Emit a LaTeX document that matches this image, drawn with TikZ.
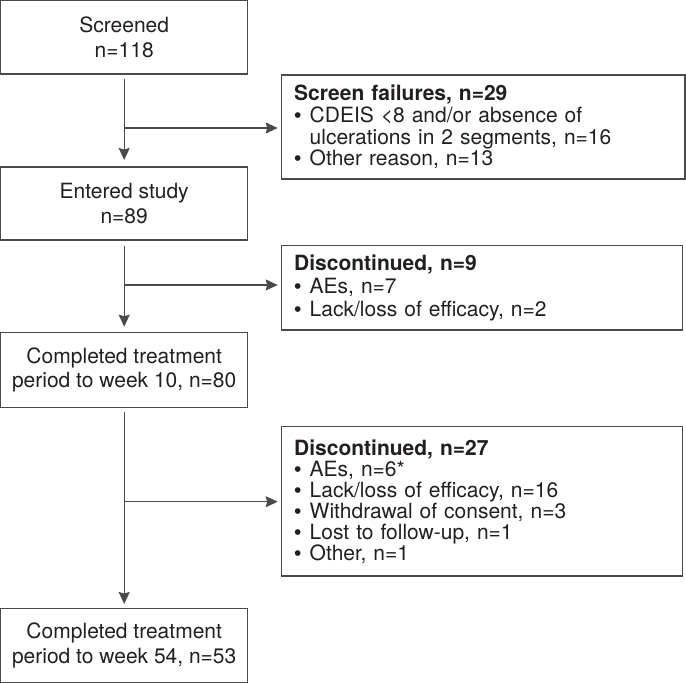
\documentclass[tikz,border=0pt]{standalone}
\usepackage{fontspec}
\setmainfont{TeX Gyre Heros}
\newfontfamily\bulfont{Liberation Sans}
\usetikzlibrary{arrows.meta}
\definecolor{linegray}{HTML}{4A4A4A}
\definecolor{txt}{HTML}{231F20}
\newcommand{\bul}{\makebox[15.5pt][l]{{\bulfont •}}}
\newcommand{\ind}{\hspace*{15.5pt}}
\begin{document}
\begin{tikzpicture}[x=1pt,y=-1pt,
  leftbox/.style={draw=linegray, line width=1.3pt, rectangle, anchor=north west,
    outer sep=0pt, inner sep=0pt, minimum width=247pt, align=center, text=txt,
    font=\fontsize{21}{24.5}\selectfont},
  rightbox/.style={draw=linegray, line width=1.3pt, rectangle, anchor=north west,
    outer sep=0pt, inner xsep=12.5pt, inner ysep=0pt, align=left, text=txt},
  flow/.style={draw=linegray, line width=1.3pt,
    -{Stealth[length=12pt,width=11pt,inset=1.5pt]}},
]
\useasboundingbox (0,0) rectangle (686,683);

% left column
\node[leftbox, minimum height=73.3pt] (B1) at (0.7,0.7) {Screened\\n=118};
\node[leftbox, minimum height=73pt] (B2) at (0.7,167) {Entered study\\n=89};
\node[leftbox, minimum height=74.6pt] (B3) at (0.7,332.7) {Completed treatment\\period to week 10, n=80};
\node[leftbox, minimum height=74pt] (B4) at (0.7,608.3) {Completed treatment\\period to week 54, n=53};

% right column
\node[rightbox, minimum height=104pt, text width=378.3pt,
  font=\fontsize{21}{21.7}\selectfont] (SF) at (281.7,75)
  {\textbf{Screen failures, n=29}\\
   \bul CDEIS <8 and/or absence of\\
   \ind ulcerations in 2 segments, n=16\\
   \bul Other reason, n=13};
\node[rightbox, minimum height=84.3pt, text width=375.6pt,
  font=\fontsize{21}{23}\selectfont] (D9) at (281.7,245.7)
  {\textbf{Discontinued, n=9}\\
   \bul AEs, n=7\\
   \bul Lack/loss of efficacy, n=2};
\node[rightbox, minimum height=149.3pt, text width=375.6pt,
  font=\fontsize{21}{21}\selectfont] (D27) at (281.7,426.7)
  {\textbf{Discontinued, n=27}\\
   \bul AEs, n=6*\\
   \bul Lack/loss of efficacy, n=16\\
   \bul Withdrawal of consent, n=3\\
   \bul Lost to follow-up, n=1\\
   \bul Other, n=1};

% junction heights
\coordinate (y1) at (0,128);
\coordinate (y2) at (0,285);
\coordinate (y3) at (0,501.7);
\coordinate (j1) at (B1.south |- y1);
\coordinate (j2) at (B2.south |- y2);
\coordinate (j3) at (B3.south |- y3);

% connectors
\draw[flow, shorten <=5pt, shorten >=7pt] (B1.south) -- (B2.north);
\draw[flow, shorten >=4pt] (j1) -- (j1 -| SF.west);
\draw[flow, shorten <=6pt, shorten >=6pt] (B2.south) -- (B3.north);
\draw[flow, shorten >=4pt] (j2) -- (j2 -| D9.west);
\draw[flow, shorten <=4.4pt, shorten >=4.3pt] (B3.south) -- (B4.north);
\draw[flow, shorten >=4pt] (j3) -- (j3 -| D27.west);
\end{tikzpicture}
\end{document}
